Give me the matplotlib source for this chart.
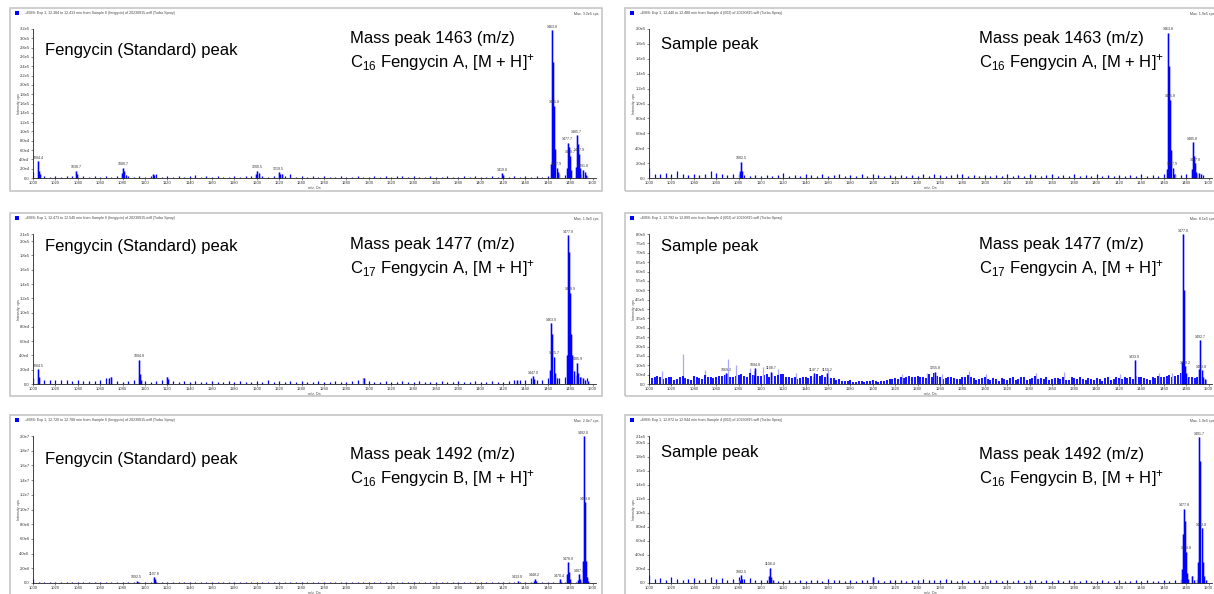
import numpy as np
import matplotlib
matplotlib.use('Agg')
import matplotlib.pyplot as plt
from matplotlib.patches import Rectangle

plt.rcParams['font.family'] = ['Liberation Sans', 'DejaVu Sans']
plt.rcParams['mathtext.fontset'] = 'custom'
plt.rcParams['mathtext.rm'] = 'Liberation Sans'
plt.rcParams['mathtext.default'] = 'regular'

W, H = 1214, 594
BLUE = '#0000ff'
LIGHT = '#a8a8ff'

# 噪声网格 (m/z 1000 ~ 1495, 每 5 Da 一根)
noise_mz = np.arange(1000, 1500, 5)
noise_mz_b = np.arange(1002.5, 1500, 5)
x_ticks = np.arange(1000, 1501, 20)

# ---------- 左上: 标准品 1463 (单位 1e3 cps) ----------
tl_noise = [12, 8, 4, 3, 4, 3, 4, 5, 3, 4,
            3, 4, 3, 5, 3, 4, 6, 4, 3, 4,
            3, 5, 8, 3, 4, 3, 4, 3, 4, 6,
            3, 4, 3, 4, 3, 3, 4, 3, 4, 5,
            6, 5, 3, 4, 6, 4, 8, 3, 5, 3,
            4, 3, 4, 3, 3, 4, 3, 3, 4, 3,
            3, 5, 3, 4, 3, 4, 5, 3, 4, 3,
            3, 4, 3, 3, 4, 3, 3, 4, 3, 4,
            3, 3, 4, 3, 5, 3, 4, 3, 5, 3,
            4, 3, 4, 6, 8, 6, 10, 6, 8, 5]
tl_pk_mz = [1004.4, 1005.4, 1006.4, 1038.7, 1039.7, 1079.7, 1080.7, 1081.7, 1082.7,
            1107.5, 1108.5, 1199.5, 1200.5, 1201.5, 1219.5, 1220.5, 1222.5, 1419.0, 1420.0,
            1462.8, 1463.8, 1464.8, 1465.8, 1466.8, 1467.9, 1468.9,
            1476.7, 1477.7, 1478.7, 1479.7, 1480.7, 1484.7, 1485.7, 1486.7, 1487.9, 1488.9,
            1491.8, 1492.8, 1494.0]
tl_pk_int = [36, 16, 9, 16, 8, 10, 22, 14, 7,
             9, 6, 8, 16, 10, 12, 8, 9, 10, 6,
             30, 318, 250, 155, 62, 22, 12,
             22, 76, 66, 48, 18, 24, 92, 72, 52, 22,
             18, 12, 7]
tl_lab_mz = [1004.4, 1038.7, 1080.7, 1200.5, 1219.5, 1419.0, 1463.8, 1465.8, 1467.9,
             1477.7, 1479.7, 1485.7, 1487.9, 1491.8]

# ---------- 右上: 样品 1463 ----------
tr_noise = [13, 6, 5, 7, 6, 9, 6, 4, 5, 4,
            6, 9, 7, 5, 4, 5, 6, 4, 3, 4,
            3, 4, 3, 4, 7, 3, 4, 3, 5, 4,
            3, 5, 3, 4, 6, 3, 4, 3, 5, 3,
            5, 4, 3, 4, 3, 4, 3, 4, 3, 5,
            3, 6, 4, 3, 4, 6, 5, 3, 4, 3,
            4, 3, 4, 3, 5, 3, 4, 3, 6, 4,
            3, 4, 6, 3, 4, 3, 5, 3, 4, 3,
            5, 3, 4, 3, 4, 3, 4, 3, 5, 3,
            4, 3, 5, 8, 5, 4, 5, 6, 6, 4]
tr_pk_mz = [1081.5, 1082.5, 1083.5, 1462.8, 1463.8, 1464.8, 1465.8, 1466.8, 1467.9, 1469.0,
            1484.8, 1485.8, 1486.8, 1487.9, 1489.0, 1491.8, 1493.0]
tr_pk_int = [9, 22, 10, 12, 195, 150, 105, 38, 14, 6,
             12, 48, 30, 20, 8, 7, 5]
tr_lab_mz = [1082.5, 1463.8, 1465.8, 1467.9, 1485.8, 1487.9]

# ---------- 左中: 标准品 1477 ----------
ml_noise = [8, 6, 5, 6, 5, 6, 5, 4, 5, 4,
            4, 4, 5, 9, 10, 4, 3, 4, 5, 8,
            4, 3, 4, 5, 10, 4, 3, 4, 3, 4,
            3, 3, 4, 3, 3, 4, 3, 4, 3, 3,
            4, 3, 5, 3, 4, 3, 4, 3, 4, 3,
            3, 4, 3, 3, 4, 3, 3, 4, 5, 8,
            4, 3, 3, 4, 3, 3, 4, 3, 3, 4,
            3, 3, 3, 4, 3, 3, 4, 3, 3, 4,
            3, 3, 4, 3, 3, 4, 5, 6, 5, 8,
            6, 5, 8, 12, 8, 10, 14, 12, 10, 8]
ml_pk_mz = [1004.5, 1005.5, 1068.0, 1070.0, 1094.8, 1095.8, 1096.8, 1120.0, 1121.0, 1296.0,
            1432.0, 1447.0, 1448.0, 1462.0, 1463.0, 1464.0, 1465.7, 1466.7, 1468.0,
            1476.9, 1477.9, 1478.9, 1479.9, 1480.9, 1481.9, 1483.0, 1485.9, 1486.9,
            1489.0, 1491.0, 1493.0, 1496.0]
ml_pk_int = [21, 10, 9, 10, 34, 14, 6, 10, 7, 8,
             6, 11, 7, 20, 85, 70, 38, 15, 8,
             40, 208, 185, 128, 70, 40, 18, 30, 15,
             10, 8, 6, 4]
ml_lab_mz = [1004.5, 1094.8, 1447.0, 1463.0, 1465.7, 1477.9, 1479.9, 1485.9]

# ---------- 右中: 样品 1477 ----------
mr_noise = [60, 35, 40, 30, 38, 28, 45, 25, 42, 30,
            48, 35, 40, 45, 55, 38, 50, 42, 60, 70,
            45, 55, 60, 48, 52, 35, 40, 30, 35, 45,
            55, 50, 40, 30, 25, 15, 20, 12, 18, 15,
            20, 12, 15, 25, 30, 35, 38, 40, 45, 35,
            55, 60, 35, 30, 40, 28, 35, 50, 30, 25,
            38, 20, 25, 30, 22, 35, 25, 40, 28, 45,
            30, 35, 25, 32, 40, 22, 30, 35, 20, 28,
            30, 18, 35, 25, 30, 40, 35, 45, 40, 25,
            35, 45, 40, 50, 45, 60, 50, 40, 35, 30]
mr_noise_b = [30, 45, 25, 35, 20, 40, 30, 22, 35, 28,
              40, 30, 45, 50, 35, 45, 55, 40, 50, 45,
              50, 40, 45, 55, 35, 30, 25, 40, 30, 38,
              45, 35, 30, 20, 15, 18, 10, 15, 12, 18,
              15, 18, 22, 28, 25, 30, 45, 35, 38, 30,
              40, 45, 25, 35, 30, 25, 40, 35, 20, 30,
              25, 30, 18, 28, 30, 20, 35, 22, 30, 25,
              28, 20, 30, 25, 22, 35, 25, 28, 30, 22,
              25, 30, 20, 35, 28, 30, 25, 35, 30, 20,
              30, 35, 45, 40, 50, 40, 35, 30, 25, 20]
mr_light_mz = [1012, 1030, 1050, 1071, 1078, 1090, 1102, 1115, 1131, 1160,
               1226, 1248, 1262, 1286, 1301, 1346, 1371, 1421, 1456, 1467]
mr_light_int = [70, 160, 75, 132, 100, 85, 90, 80, 60, 75,
                55, 60, 55, 70, 55, 60, 65, 55, 60, 60]
mr_pk_mz = [1069.2, 1093.8, 1094.8, 1108.7, 1147.7, 1159.2, 1255.8, 1433.9,
            1476.0, 1477.0, 1478.0, 1479.2, 1480.2, 1482.0,
            1491.7, 1492.7, 1493.8, 1495.0, 1497.0]
mr_pk_int = [57, 50, 84, 66, 57, 57, 65, 127,
             120, 800, 500, 95, 60, 40,
             80, 235, 75, 40, 25]
mr_lab_mz = [1069.2, 1094.8, 1108.7, 1147.7, 1159.2, 1255.8, 1433.9, 1477.0, 1479.2,
             1492.7, 1493.8]

# ---------- 左下: 标准品 1492 (单位 1e5 cps) ----------
bl_noise = [6, 2, 1, 1, 1, 1, 1, 1, 1, 1,
            1, 1, 1, 1, 1, 1, 1, 1, 2, 2,
            1, 2, 1, 1, 1, 1, 1, 1, 1, 1,
            1, 1, 1, 1, 1, 1, 1, 1, 1, 1,
            1, 1, 1, 1, 1, 1, 1, 1, 1, 1,
            1, 1, 1, 2, 1, 1, 1, 1, 1, 1,
            1, 1, 1, 1, 1, 1, 1, 1, 1, 1,
            1, 1, 1, 1, 1, 1, 1, 1, 1, 1,
            1, 1, 1, 1, 1, 1, 1, 2, 1, 2,
            1, 1, 2, 2, 1, 2, 3, 2, 3, 2]
bl_pk_mz = [1092.5, 1093.5, 1107.8, 1108.8, 1109.8, 1433.0, 1447.2, 1448.2, 1449.2,
            1470.4, 1471.4, 1477.0, 1478.0, 1479.0, 1480.0, 1486.7, 1487.7, 1488.7,
            1491.0, 1492.0, 1493.0, 1494.0, 1495.0, 1496.0]
bl_pk_int = [3, 2, 8, 5, 2, 3, 3, 6, 3,
             5, 2, 12, 28, 15, 6, 4, 12, 5,
             30, 200, 110, 30, 8, 3]
bl_lab_mz = [1092.5, 1107.8, 1433.0, 1448.2, 1470.4, 1478.0, 1487.7, 1492.0, 1493.0]

# ---------- 右下: 样品 1492 ----------
br_noise = [11, 6, 7, 5, 8, 6, 5, 6, 7, 5,
            6, 8, 6, 7, 5, 6, 9, 6, 7, 5,
            4, 5, 4, 3, 3, 4, 3, 4, 3, 4,
            5, 3, 6, 4, 5, 3, 4, 3, 4, 5,
            8, 4, 3, 4, 5, 4, 3, 4, 5, 6,
            5, 4, 5, 6, 4, 3, 4, 3, 5, 4,
            3, 4, 5, 3, 4, 3, 4, 3, 4, 5,
            3, 4, 3, 4, 3, 4, 3, 3, 4, 3,
            3, 4, 3, 3, 4, 3, 3, 4, 3, 4,
            3, 3, 4, 3, 4, 6, 5, 10, 6, 8]
br_pk_mz = [1081.5, 1082.5, 1083.5, 1107.4, 1108.4, 1109.4, 1110.4, 1200.0,
            1475.8, 1476.8, 1477.8, 1478.8, 1479.8, 1480.8, 1482.0, 1485.0, 1487.0,
            1490.7, 1491.7, 1492.7, 1493.8, 1494.8, 1496.0, 1498.0]
br_pk_int = [5, 11, 6, 10, 22, 9, 4, 8,
             20, 70, 106, 88, 45, 15, 6, 10, 5,
             30, 208, 175, 78, 30, 10, 5]
br_lab_mz = [1082.5, 1108.4, 1477.8, 1479.8, 1491.7, 1493.8]

headers = ['+EMS: Exp 1, 12.384 to 12.413 min from Sample 6 (fengycin) of 20230815.wiff (Turbo Spray)',
           '+EMS: Exp 1, 12.440 to 12.488 min from Sample 4 (002) of 20230815.wiff (Turbo Spray)',
           '+EMS: Exp 1, 12.473 to 12.540 min from Sample 6 (fengycin) of 20230815.wiff (Turbo Spray)',
           '+EMS: Exp 1, 12.782 to 12.899 min from Sample 4 (002) of 20230815.wiff (Turbo Spray)',
           '+EMS: Exp 1, 12.720 to 12.788 min from Sample 6 (fengycin) of 20230815.wiff (Turbo Spray)',
           '+EMS: Exp 1, 12.872 to 12.944 min from Sample 4 (002) of 20230815.wiff (Turbo Spray)']
max_texts = ['Max. 3.2e5 cps.', 'Max. 1.9e5 cps.', 'Max. 1.9e5 cps.',
             'Max. 8.1e5 cps.', 'Max. 2.0e7 cps.', 'Max. 1.9e5 cps.']
titles = ['Fengycin (Standard) peak', 'Sample peak'] * 3
mass_lines = ['Mass peak 1463 (m/z)', 'Mass peak 1463 (m/z)',
              'Mass peak 1477 (m/z)', 'Mass peak 1477 (m/z)',
              'Mass peak 1492 (m/z)', 'Mass peak 1492 (m/z)']
formula_lines = [r'C$_{16}$ Fengycin A, [M + H]$^{+}$', r'C$_{16}$ Fengycin A, [M + H]$^{+}$',
                 r'C$_{17}$ Fengycin A, [M + H]$^{+}$', r'C$_{17}$ Fengycin A, [M + H]$^{+}$',
                 r'C$_{16}$ Fengycin B, [M + H]$^{+}$', r'C$_{16}$ Fengycin B, [M + H]$^{+}$']

# 版面 (像素)
COLS = [dict(frame=(10, 602), axes=(33, 596), title_x=45, mass_x=350),
        dict(frame=(625, 1230), axes=(649, 1212), title_x=661, mass_x=979)]
ROWS = [dict(frame=(8, 191), axes=(29, 178)),
        dict(frame=(213, 396), axes=(234, 384)),
        dict(frame=(415, 600), axes=(436, 583))]
# 文字中心 y: 标题, 质量, 分子式
TEXT_Y = [(49, 37, 61), (43, 37, 61),
          (245, 243, 267), (245, 243, 267),
          (458, 453, 477), (451, 453, 477)]


def sci(v):
    if v == 0:
        return '0.0'
    m, e = '{:.1e}'.format(v).split('e')
    return '{}e{}'.format(m, int(e))


def fig_text(fig, x, y, s, **kw):
    fig.text(x / W, 1 - y / H, s, **kw)


def draw_panel(fig, k, d):
    col = COLS[k % 2]
    row = ROWS[k // 2]
    fx0, fx1 = col['frame']
    fy0, fy1 = row['frame']
    ax0, ax1 = col['axes']
    ay0, ay1 = row['axes']

    # 外框和抬头
    fig.patches.append(Rectangle((fx0 / W, 1 - fy1 / H), (fx1 - fx0) / W, (fy1 - fy0) / H,
                                 transform=fig.transFigure, fill=False, ec='#c6c6c6', lw=1.2))
    fig.patches.append(Rectangle(((fx0 + 5) / W, 1 - (fy0 + 7) / H), 4 / W, 4 / H,
                                 transform=fig.transFigure, fc=BLUE, ec='none'))
    fig_text(fig, fx0 + 15, fy0 + 5, headers[k], fontsize=2.6, color='#444444', va='center')
    fig_text(fig, ax1 + 3, fy0 + 6, max_texts[k], fontsize=2.6, color='#444444',
             va='center', ha='right')
    fig_text(fig, fx0 + 9, (ay0 + ay1) / 2, 'Intensity, cps', fontsize=2.6, color='#444444',
             rotation=90, va='center', ha='center')
    fig_text(fig, (ax0 + ax1) / 2, ay1 + 10, 'm/z, Da', fontsize=2.6, color='#444444',
             va='center', ha='center')

    ax = fig.add_axes([ax0 / W, 1 - ay1 / H, (ax1 - ax0) / W, (ay1 - ay0) / H])
    unit = d['unit']
    nlw = d.get('nlw', 0.9)
    nb = d.get('noise_b')
    if nb is not None:
        ax.vlines(noise_mz_b, 0, np.array(nb) * unit, color=BLUE, lw=nlw)
    if d.get('light_mz') is not None:
        ax.vlines(d['light_mz'], 0, np.array(d['light_int']) * unit, color=LIGHT, lw=0.9)
    ax.vlines(noise_mz, 0, np.array(d['noise']) * unit, color=BLUE, lw=nlw)
    pk_y = np.array(d['pk_int']) * unit
    ax.vlines(d['pk_mz'], 0, pk_y, color=LIGHT, lw=1.8, clip_on=False)
    ax.vlines(d['pk_mz'], 0, pk_y, color=BLUE, lw=0.8, clip_on=False)

    # 峰标注
    heights = dict(zip(d['pk_mz'], pk_y))
    for m in d['lab']:
        ax.annotate('{:.1f}'.format(m), xy=(m, heights[m]), xytext=(0, 1),
                    textcoords='offset points', ha='center', va='bottom',
                    fontsize=2.6, color='#333333', annotation_clip=False)

    ax.set_xlim(1000, 1503)
    ax.set_ylim(0, d['ytop'])
    ax.set_xticks(x_ticks)
    ax.set_xticklabels([str(t) for t in x_ticks])
    ax.set_yticks(d['yticks'])
    ax.set_yticklabels([sci(v) for v in d['yticks']])
    ax.tick_params(labelsize=3, length=1.5, width=0.4, pad=1, colors='#333333')
    for s in ['top', 'right']:
        ax.spines[s].set_visible(False)
    for s in ['left', 'bottom']:
        ax.spines[s].set_linewidth(0.6)
        ax.spines[s].set_color('#222222')
    ax.patch.set_alpha(0)

    # 大字说明
    ty, my, cy = TEXT_Y[k]
    fig_text(fig, col['title_x'], ty + 6, titles[k], fontsize=12, va='baseline')
    fig_text(fig, col['mass_x'], my + 6, mass_lines[k], fontsize=12, va='baseline')
    fig_text(fig, col['mass_x'], cy + 6, formula_lines[k], fontsize=12, va='baseline')


def main():
    yt_2e5 = list(np.arange(0, 2.01e5, 2e4))
    panels = [
        dict(noise=tl_noise, pk_mz=tl_pk_mz, pk_int=tl_pk_int, lab=tl_lab_mz, unit=1e3,
             ytop=3.2e5, yticks=list(np.arange(0, 3.21e5, 2e4))),
        dict(noise=tr_noise, pk_mz=tr_pk_mz, pk_int=tr_pk_int, lab=tr_lab_mz, unit=1e3,
             ytop=2.0e5, yticks=yt_2e5),
        dict(noise=ml_noise, pk_mz=ml_pk_mz, pk_int=ml_pk_int, lab=ml_lab_mz, unit=1e3,
             ytop=2.1e5, yticks=yt_2e5 + [2.1e5]),
        dict(noise=mr_noise, noise_b=mr_noise_b, light_mz=mr_light_mz, light_int=mr_light_int,
             pk_mz=mr_pk_mz, pk_int=mr_pk_int, lab=mr_lab_mz, unit=1e3, nlw=1.3,
             ytop=8.0e5, yticks=list(np.arange(0, 8.01e5, 5e4))),
        dict(noise=bl_noise, pk_mz=bl_pk_mz, pk_int=bl_pk_int, lab=bl_lab_mz, unit=1e5,
             ytop=2.0e7, yticks=list(np.arange(0, 2.01e7, 2e6))),
        dict(noise=br_noise, pk_mz=br_pk_mz, pk_int=br_pk_int, lab=br_lab_mz, unit=1e3,
             ytop=2.1e5, yticks=yt_2e5 + [2.1e5]),
    ]
    fig = plt.figure(figsize=(W / 100, H / 100), dpi=100)
    fig.patch.set_facecolor('white')
    for k, d in enumerate(panels):
        draw_panel(fig, k, d)
    fig.savefig('out.png', dpi=100)


if __name__ == '__main__':
    main()
